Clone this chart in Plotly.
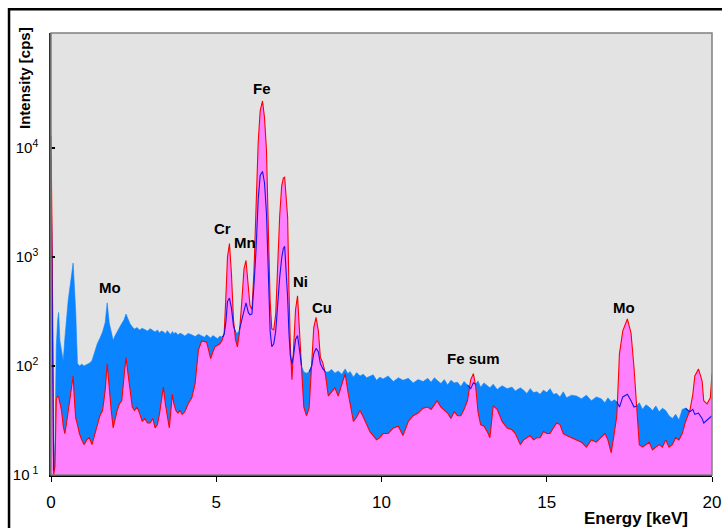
import math
import plotly.graph_objects as go

# ---------------- data ----------------
energy_kev = [
    # 0 - 1 keV
    0.00, 0.04, 0.08, 0.12, 0.16, 0.20, 0.23, 0.27, 0.32, 0.37, 0.42, 0.47, 0.52, 0.57, 0.62, 0.67, 0.71, 0.75, 0.80, 0.86, 0.93,
    # 1 - 5.2 keV
    1.00, 1.08, 1.16, 1.24, 1.32, 1.40, 1.48, 1.56, 1.64, 1.70,
    1.76, 1.82, 1.88, 1.94, 2.00, 2.07, 2.14, 2.21, 2.27, 2.33,
    2.39, 2.46, 2.53, 2.60, 2.68, 2.76, 2.84, 2.92, 3.00, 3.08,
    3.15, 3.22, 3.28, 3.34, 3.40, 3.46, 3.52, 3.58, 3.63, 3.67,
    3.72, 3.78, 3.84, 3.90, 3.97, 4.05, 4.15, 4.26, 4.36, 4.46,
    4.56, 4.64, 4.71, 4.77, 4.83, 4.90, 4.96, 5.04, 5.11, 5.18,
    # 5.2 - 8.3 keV (Cr, Mn, Fe, Ni, Cu)
    5.24, 5.29, 5.34, 5.40, 5.46, 5.52, 5.58, 5.64, 5.70, 5.77,
    5.84, 5.90, 5.97, 6.02, 6.08, 6.14, 6.20, 6.27, 6.33, 6.40,
    6.46, 6.52, 6.58, 6.63, 6.68, 6.74, 6.80, 6.86, 6.92, 6.98,
    7.03, 7.07, 7.12, 7.16, 7.20, 7.24, 7.29, 7.34, 7.40, 7.46,
    7.52, 7.58, 7.65, 7.73, 7.81, 7.89, 7.95, 8.02, 8.09, 8.15,
    8.22, 8.30,
    # 8.4 - 11.3 keV
    8.39, 8.49, 8.59, 8.69, 8.80, 8.90, 8.98, 9.05, 9.15, 9.25,
    9.35, 9.45, 9.55, 9.65, 9.75, 9.85, 9.95, 10.05, 10.20, 10.36,
    10.51, 10.65, 10.81, 10.96, 11.11, 11.26,
    # 11.4 - 14.9 keV
    11.40, 11.50, 11.60, 11.68, 11.80, 11.90, 12.00, 12.10, 12.20, 12.30,
    12.40, 12.50, 12.60, 12.70, 12.78, 12.85, 12.92, 13.00, 13.10, 13.20,
    13.28, 13.38, 13.50, 13.65, 13.80, 13.95, 14.05, 14.20, 14.30, 14.40,
    14.50, 14.60, 14.70, 14.80, 14.90,
    # 15 - 20 keV
    15.00, 15.10, 15.20, 15.30, 15.40, 15.50, 15.60, 15.75, 15.90, 16.05,
    16.20, 16.35, 16.50, 16.65, 16.76, 16.85, 16.95, 17.05, 17.12, 17.20,
    17.30, 17.44, 17.55, 17.64, 17.72, 17.80, 17.90, 18.00, 18.10, 18.20,
    18.30, 18.40, 18.50, 18.60, 18.70, 18.80, 18.90, 19.00, 19.10, 19.20,
    19.33, 19.42, 19.48, 19.59, 19.70, 19.75, 19.85, 19.95, 20.00,
]

spectrum_blue_cps = [
    8000, 550, 11, 20, 150, 260, 310, 170, 140, 112, 180, 280, 400, 520, 650, 880, 520, 300, 106, 100, 104,
    100, 103, 106, 112, 135, 160, 180, 205, 250, 380,
    250, 210, 172, 190, 205, 230, 245, 265, 300, 270,
    245, 228, 218, 225, 214, 222, 216, 209, 220, 212,
    205, 214, 201, 210, 206, 198, 211, 200, 195, 207,
    199, 203, 192, 200, 196, 188, 199, 193, 186, 196,
    190, 184, 193, 187, 181, 190, 186, 178, 188, 183,
    195, 250, 390, 420, 340, 235, 205, 200, 215, 270,
    320, 380, 310, 295, 300, 550, 1100, 3400, 5600, 6100,
    4800, 2500, 550, 210, 150, 160, 210, 380, 650, 980,
    1200, 1250, 760, 420, 200, 125, 105, 125, 175, 190,
    140, 100, 88, 86, 88, 100, 130, 145, 135, 105,
    95, 88,
    88, 93, 86, 90, 84, 94, 85, 89, 79, 87,
    81, 84, 78, 80, 83, 74, 79, 76, 81, 72,
    78, 74, 77, 70, 75, 72,
    77, 71, 78, 74, 69, 75, 67, 74, 70, 71,
    65, 72, 67, 62, 70, 68, 73, 64, 70, 66,
    63, 68, 61, 66, 62, 64, 59, 63, 60, 56,
    62, 57, 58, 55, 60,
    57, 62, 55, 56, 52, 58, 51, 54, 53, 50,
    54, 48, 52, 50, 46, 51, 47, 49, 47, 42,
    52, 55, 48, 42, 43, 46, 40, 44, 42, 39,
    43, 38, 41, 39, 35, 33, 36, 32, 40, 41,
    38, 40, 36, 37, 33, 30, 32, 34, 35,
]

spectrum_pink_cps = [
    13000, 900, 10, 12, 50, 53, 52, 45, 39, 28, 24, 30, 39, 50, 62, 81, 48, 33, 29, 24, 21,
    19, 21, 22, 19, 23, 28, 35, 39, 60, 105,
    60, 40, 27, 33, 39, 45, 48, 80, 120, 85,
    63, 42, 39, 42, 37, 31, 33, 30, 30, 33,
    27, 29, 36, 48, 64, 45, 33, 27, 40, 55,
    45, 39, 37, 39, 36, 38, 45, 51, 69, 140,
    170, 168, 165, 140, 117, 135, 150, 155, 160, 172,
    200, 420, 1000, 1330, 700, 270, 175, 150, 200, 380,
    780, 930, 550, 360, 330, 720, 2600, 11400, 22000, 27000,
    19000, 9500, 1600, 400, 220, 215, 300, 900, 2400, 4500,
    5300, 5400, 3500, 2300, 500, 160, 75, 140, 330, 440,
    230, 97, 42, 35, 41, 105, 225, 280, 210, 120,
    108, 85,
    53, 58, 63, 53, 69, 85, 59, 45, 31, 34,
    39, 34, 29, 25, 23, 21, 22, 24, 24, 27,
    28, 23, 31, 35, 37, 41,
    42, 40, 44, 48, 42, 39, 37, 33, 38, 35,
    35, 40, 48, 75, 85, 65, 38, 29, 28, 25,
    22, 43, 40, 31, 27, 26, 24, 19, 21, 22,
    23, 21, 22, 22, 25,
    24, 24, 27, 30, 29, 24, 23, 22, 21, 20,
    18, 21, 20, 22, 24, 21, 16, 25, 35, 130,
    210, 270, 200, 97, 41, 19, 18, 19, 20, 17,
    18, 19, 18, 21, 18, 19, 22, 21, 24, 31,
    39, 55, 81, 94, 73, 48, 45, 51, 85,
]

x_tick_values = [0, 5, 10, 15, 20]
y_tick_values = [10, 100, 1000, 10000]
y_tick_labels = ["10<sup> 1</sup>", "10<sup>2</sup>", "10<sup>3</sup>", "10<sup>4</sup>"]

peak_names = ["Mo", "Cr", "Mn", "Fe", "Ni", "Cu", "Fe sum", "Mo"]
peak_energy_kev = [1.78, 5.20, 5.87, 6.38, 7.56, 8.20, 12.77, 17.34]
peak_label_cps = [525, 1830, 1360, 34800, 597, 344, 117, 344]

assert len(energy_kev) == len(spectrum_blue_cps) == len(spectrum_pink_cps)

# ---------------- figure ----------------
FONT = "Liberation Sans, Arial, sans-serif"
BASE = 10  # bottom of the log axis
n = len(energy_kev)

blue_below = [b < p for b, p in zip(spectrum_blue_cps, spectrum_pink_cps)]
blue_line = []
for i in range(n):
    near = blue_below[i] or (i > 0 and blue_below[i - 1]) or (i < n - 1 and blue_below[i + 1])
    blue_line.append(spectrum_blue_cps[i] if near else None)

fig = go.Figure()
fig.add_trace(go.Scatter(x=energy_kev, y=[BASE] * n, mode="lines",
                         line=dict(width=0, color="rgba(0,0,0,0)"), hoverinfo="skip"))
fig.add_trace(go.Scatter(x=energy_kev, y=spectrum_blue_cps, mode="lines", fill="tonexty",
                         fillcolor="#0A84FF", line=dict(color="#0A84FF", width=0.6),
                         hoverinfo="skip"))
fig.add_trace(go.Scatter(x=energy_kev, y=[BASE] * n, mode="lines",
                         line=dict(width=0, color="rgba(0,0,0,0)"), hoverinfo="skip"))
fig.add_trace(go.Scatter(x=energy_kev, y=spectrum_pink_cps, mode="lines", fill="tonexty",
                         fillcolor="#FF80FF", line=dict(color="#FF0000", width=1.1),
                         hoverinfo="skip"))
fig.add_trace(go.Scatter(x=energy_kev, y=blue_line, mode="lines", connectgaps=False,
                         line=dict(color="#1414E6", width=1.1), hoverinfo="skip"))

annotations = []
for name, ex, cy in zip(peak_names, peak_energy_kev, peak_label_cps):
    annotations.append(dict(x=ex, y=math.log10(cy), xref="x", yref="y", text=f"<b>{name}</b>",
                            showarrow=False, xanchor="center", yanchor="middle",
                            font=dict(family=FONT, size=15, color="black")))

annotations.append(dict(x=-0.041, y=0.898, xref="paper", yref="paper", text="<b>Intensity [cps]</b>",
                        textangle=-90, showarrow=False, xanchor="center", yanchor="middle",
                        font=dict(family=FONT, size=15, color="black")))
annotations.append(dict(x=0.885, y=-0.0995, xref="paper", yref="paper", text="<b>Energy [keV]</b>",
                        showarrow=False, xanchor="center", yanchor="middle",
                        font=dict(family=FONT, size=17, color="black")))

shapes = [
    # plot-area border (grey)
    dict(type="rect", xref="paper", yref="paper", x0=0, x1=1, y0=0, y1=1,
         line=dict(color="#808080", width=1.5), layer="above"),
    # outer chart frame (black), extends past the right/bottom of the picture
    dict(type="rect", xref="paper", yref="paper", x0=-0.0635, x1=1.06, y0=-0.2, y1=1.054,
         line=dict(color="black", width=2.5), layer="above"),
]

fig.update_layout(
    width=722, height=528,
    margin=dict(l=51, r=10, t=33, b=53),
    paper_bgcolor="white", plot_bgcolor="#E3E3E3",
    showlegend=False,
    font=dict(family=FONT, color="black"),
    annotations=annotations, shapes=shapes,
    xaxis=dict(range=[0, 20], tickvals=x_tick_values, ticks="outside", ticklen=5,
               tickcolor="black", tickwidth=1, showline=True, linecolor="black", linewidth=1.5,
               showgrid=False, zeroline=False, tickfont=dict(family=FONT, size=17),
               ticklabelstandoff=6, automargin=False),
    yaxis=dict(type="log", range=[1, 5.055], tickvals=y_tick_values, ticktext=y_tick_labels,
               ticks="inside", ticklen=4, tickcolor="black", tickwidth=1.5,
               showline=True, linecolor="#333333", linewidth=1.5,
               showgrid=False, zeroline=False, tickfont=dict(family=FONT, size=15),
               ticklabelstandoff=8, automargin=False),
)

fig.write_html("out.html")
